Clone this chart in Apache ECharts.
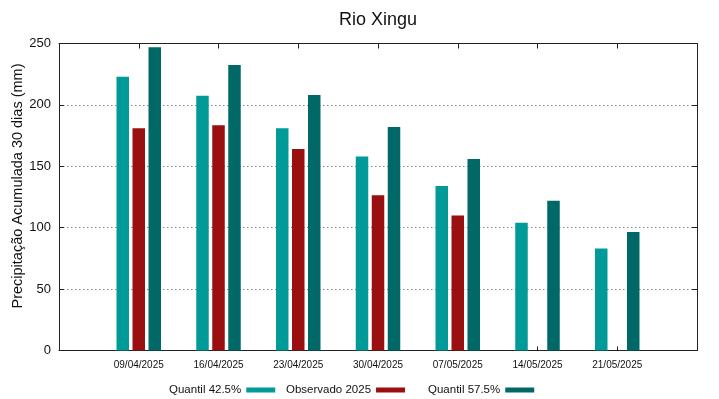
<!DOCTYPE html>
<html>
<head>
<meta charset="utf-8">
<script src="https://cdn.jsdelivr.net/npm/echarts@6/dist/echarts.min.js"></script>
<style>
html,body{margin:0;padding:0;background:#fff;}
#c{width:719px;height:399px;}
</style>
</head>
<body>
<div id="c"></div>
<script>
const title = 'Rio Xingu';
const yAxisName = 'Precipitação Acumulada 30 dias (mm)';
const dates = ['09/04/2025','16/04/2025','23/04/2025','30/04/2025','07/05/2025','14/05/2025','21/05/2025'];
const seriesNames = ['Quantil 42.5%','Observado 2025','Quantil 57.5%'];
const q425 = [223, 207.5, 181, 158, 134, 104, 83];
const obs2025 = [181, 183.5, 164, 126.5, 110, null, null];
const q575 = [247, 232.5, 208, 182, 156, 122, 96.5];
const yTicks = [0, 50, 100, 150, 200, 250];

const colors = ['#009b98', '#9a0f0f', '#006866'];
const font = 'Liberation Sans, Arial, sans-serif';

function toPoints(arr){ return arr.map((v,i)=>[i+1, v]); }

const chart = echarts.init(document.getElementById('c'), null, {renderer:'canvas'});
const lineStyle = {color:'#222', width:1};
const legendBase = {
  top: 379, orient:'horizontal', align:'right', icon:'rect',
  itemWidth: 29, itemHeight: 5,
  textStyle:{fontFamily:font, fontSize:11.5, color:'#111'},
  selectedMode:false
};
chart.setOption({
  animation:false,
  backgroundColor:'#fff',
  title:{text:title, left:334, top:6,
    textStyle:{fontFamily:font, fontSize:18, fontWeight:'normal', color:'#111'}},
  grid:{left:59, right:22, top:43.5, bottom:48.5, containLabel:false, outerBoundsMode:'none'},
  legend:[
    Object.assign({}, legendBase, {left:164, data:[seriesNames[0]]}),
    Object.assign({}, legendBase, {left:281, data:[seriesNames[1]]}),
    Object.assign({}, legendBase, {left:423, data:[seriesNames[2]]})
  ],
  xAxis:[{
    type:'value', min:0, max:8, interval:1, position:'bottom',
    axisLine:{show:true, lineStyle:lineStyle, onZero:false},
    axisTick:{show:true, inside:true, length:4, lineStyle:lineStyle},
    splitLine:{show:false},
    axisLabel:{show:true, margin:10, fontFamily:font, fontSize:10, color:'#111',
      formatter:v => (v>=1 && v<=dates.length) ? dates[v-1] : ''}
  },{
    type:'value', min:0, max:8, interval:1, position:'top',
    axisLine:{show:true, lineStyle:lineStyle, onZero:false},
    axisTick:{show:true, inside:true, length:5, lineStyle:lineStyle},
    axisLabel:{show:false}, splitLine:{show:false}
  }],
  yAxis:[{
    type:'value', min:0, max:250, interval:50, position:'left',
    name:yAxisName, nameLocation:'middle', nameGap:34, nameRotate:90, nameMoveOverlap:false,
    nameTextStyle:{fontFamily:font, fontSize:14.5, color:'#111', padding:[0,0,0,22]},
    axisLine:{show:true, lineStyle:lineStyle, onZero:false},
    axisTick:{show:true, inside:true, length:5, lineStyle:lineStyle},
    axisLabel:{margin:8, fontFamily:font, fontSize:13, color:'#111',
      formatter:v => yTicks.indexOf(v) >= 0 ? String(v) : ''},
    splitLine:{show:true, lineStyle:{color:'#888', type:[1.5,2.5], width:1}},
  },{
    type:'value', min:0, max:250, interval:50, position:'right',
    axisLine:{show:true, lineStyle:lineStyle, onZero:false},
    axisTick:{show:true, inside:true, length:5, lineStyle:lineStyle},
    axisLabel:{show:false}, splitLine:{show:false}
  }],
  series:[
    {name:seriesNames[0], type:'bar', xAxisIndex:0, yAxisIndex:0, data:toPoints(q425),
     barWidth:12.5, barGap:'28%', itemStyle:{color:colors[0]}},
    {name:seriesNames[1], type:'bar', xAxisIndex:0, yAxisIndex:0, data:toPoints(obs2025),
     barWidth:12.5, barGap:'28%', itemStyle:{color:colors[1]}},
    {name:seriesNames[2], type:'bar', xAxisIndex:0, yAxisIndex:0, data:toPoints(q575),
     barWidth:12.5, barGap:'28%', itemStyle:{color:colors[2]}}
  ]
});
</script>
</body>
</html>
